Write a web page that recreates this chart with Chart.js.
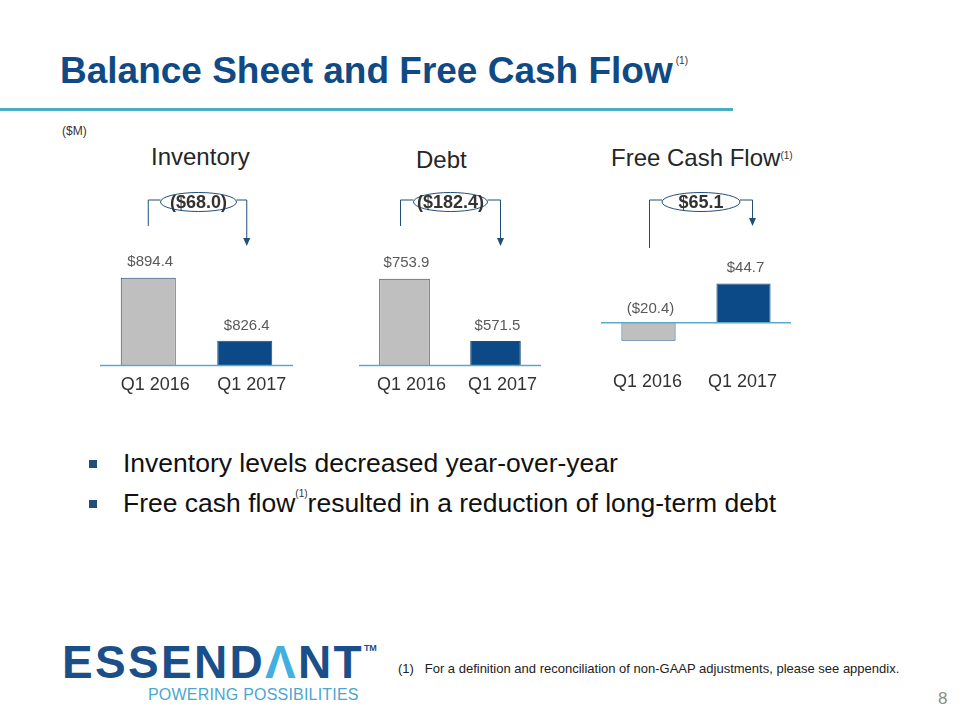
<!DOCTYPE html>
<html>
<head>
<meta charset="utf-8">
<script src="https://cdn.jsdelivr.net/npm/chart.js@4.4.1/dist/chart.umd.min.js"></script>
<style>
  body { margin: 0; width: 960px; height: 720px; background: #fff; font-family: "Liberation Sans", Arial, sans-serif; position: relative; overflow: hidden; }
  .abs { position: absolute; white-space: nowrap; }
  #title { left: 60px; top: 50px; font-size: 37px; line-height: 42px; font-weight: bold; color: #0F4A85; }
  #title sup { font-size: 10px; font-weight: normal; color: #333; vertical-align: top; position: relative; top: -10px; left: 3px; }
  .ttl sup { font-size: 10px; font-weight: normal; color: #333; vertical-align: top; position: relative; top: -2px; }
  .bul sup { font-size: 10px; font-weight: normal; color: #333; vertical-align: top; position: relative; top: -9px; }
  #rule { left: 0; top: 108px; width: 733px; height: 3px; background: #4BACC6; }
  #unit { left: 62px; top: 124px; font-size: 12px; color: #333; }
  .ttl { font-size: 24px; line-height: 28px; color: #262626; }
  .bul { font-size: 26.5px; line-height: 30px; color: #111; }
  .sq { width: 8px; height: 8px; background: #1F4E79; }
  #foot { left: 398px; top: 661px; font-size: 13px; color: #222; }
  #pg { left: 938px; top: 689px; font-size: 17px; color: #8a8a8a; }
  #logo { left: 62px; top: 640px; font-size: 46px; line-height: 44px; font-weight: bold; color: #1B4F8A; letter-spacing: 2.3px; }
  #logo .a { color: #41B0E0; }
  #logo sup { font-size: 9px; line-height: 9px; vertical-align: top; position: relative; top: 4px; letter-spacing: 0; }
  #tag { left: 148px; top: 686px; font-size: 16px; line-height: 17px; color: #4BA6D1; letter-spacing: 0.2px; }
  canvas { position: absolute; }
</style>
</head>
<body>
<div class="abs" id="title">Balance Sheet and Free Cash Flow<sup>(1)</sup></div>
<div class="abs" id="rule"></div>
<div class="abs" id="unit">($M)</div>

<div class="abs ttl" style="left:151px; top:143px;">Inventory</div>
<div class="abs ttl" style="left:416px; top:146px;">Debt</div>
<div class="abs ttl" style="left:611px; top:144px;">Free Cash Flow<sup>(1)</sup></div>

<canvas id="cInv" width="193" height="220" style="left:100px; top:189px; width:193px; height:220px;"></canvas>
<canvas id="cDebt" width="182" height="220" style="left:359px; top:189px; width:182px; height:220px;"></canvas>
<canvas id="cFcf" width="190" height="220" style="left:601px; top:189px; width:190px; height:220px;"></canvas>

<div class="abs sq" style="left:89px; top:460px;"></div>
<div class="abs bul" style="left:123px; top:448px;">Inventory levels decreased year-over-year</div>
<div class="abs sq" style="left:89px; top:500px;"></div>
<div class="abs bul" style="left:123px; top:488px;">Free cash flow<sup>(1)</sup>resulted in a reduction of long-term debt</div>

<div class="abs" id="logo">ESSEND<span class="a">&Lambda;</span>NT<sup>TM</sup></div>
<div class="abs" id="tag">POWERING POSSIBILITIES</div>
<div class="abs" id="foot">(1)&nbsp;&nbsp;&nbsp;For a definition and reconciliation of non-GAAP adjustments, please see appendix.</div>
<div class="abs" id="pg">8</div>

<script>
var periods = ['Q1 2016', 'Q1 2017'];
var inventory = [894.4, 826.4];
var debt = [753.9, 571.5];
var freeCashFlow = [-20.4, 44.7];

var NAVY = '#0B4A87';
var GRAY = '#BFBFBF';
var LINE = '#5AAAC9';

function fmt(v) {
    var s = '$' + Math.abs(v).toFixed(1);
    return v < 0 ? '(' + s + ')' : s;
}

// baseline, value labels and the change bracket
var decor = {
    id: 'decor',
    afterDatasetsDraw: function (chart, args, o) {
        var ctx = chart.ctx, area = chart.chartArea;
        var y0 = chart.scales.y.getPixelForValue(o.base);
        var bars = chart.getDatasetMeta(0).data;
        var vals = chart.data.datasets[0].data;

        ctx.save();
        ctx.strokeStyle = LINE;
        ctx.lineWidth = 1.5;
        ctx.beginPath();
        ctx.moveTo(area.left, y0);
        ctx.lineTo(area.right, y0);
        ctx.stroke();

        ctx.fillStyle = '#595959';
        ctx.font = '15px "Liberation Sans", Arial, sans-serif';
        ctx.textAlign = 'center';
        ctx.textBaseline = 'bottom';
        bars.forEach(function (b, i) {
            var top = vals[i] < 0 ? y0 - 6 : b.y - 8;
            ctx.fillText(fmt(vals[i]), b.x + 2, top);
        });

        // bracket
        var x1 = bars[0].x + o.dx1, x2 = bars[1].x + o.dx2;
        var cx = (x1 + x2) / 2 + o.dxe, cy = o.ey;
        var rx = o.rx, ry = 9.5;
        ctx.strokeStyle = '#1F4E79';
        ctx.lineWidth = 1;
        ctx.beginPath();
        ctx.moveTo(x1, o.leftBottom);
        ctx.lineTo(x1, cy - 2);
        ctx.lineTo(cx - rx, cy - 2);
        ctx.moveTo(cx + rx, cy - 2);
        ctx.lineTo(x2, cy - 2);
        ctx.lineTo(x2, o.tip - 7);
        ctx.stroke();
        ctx.fillStyle = '#1F4E79';
        ctx.beginPath();
        ctx.moveTo(x2 - 3.5, o.tip - 8);
        ctx.lineTo(x2 + 3.5, o.tip - 8);
        ctx.lineTo(x2, o.tip);
        ctx.closePath();
        ctx.fill();

        ctx.fillStyle = '#fff';
        ctx.beginPath();
        ctx.ellipse(cx, cy, rx, ry, 0, 0, Math.PI * 2);
        ctx.fill();
        ctx.stroke();
        ctx.fillStyle = '#333';
        ctx.font = 'bold 18px "Liberation Sans", Arial, sans-serif';
        ctx.textBaseline = 'middle';
        ctx.fillText(fmt(vals[1] - vals[0]), cx, cy + 1);
        ctx.restore();
    }
};

function makeChart(id, values, min, max, padTop, padBottom, barPct, labelOffset, deco) {
    return new Chart(document.getElementById(id), {
        type: 'bar',
        data: {
            labels: periods,
            datasets: [{
                data: values,
                backgroundColor: [GRAY, NAVY],
                borderColor: '#1F4E79',
                borderWidth: 1,
                barPercentage: barPct,
                categoryPercentage: 1
            }]
        },
        options: {
            responsive: false,
            animation: false,
            events: [],
            layout: { padding: { top: padTop, bottom: padBottom, left: 0, right: 0 } },
            plugins: {
                legend: { display: false },
                tooltip: { enabled: false },
                decor: deco
            },
            scales: {
                x: {
                    grid: { display: false, drawTicks: false },
                    border: { display: false },
                    ticks: {
                        color: '#333',
                        padding: 9,
                        labelOffset: labelOffset,
                        font: { family: '"Liberation Sans", Arial, sans-serif', size: 18 }
                    }
                },
                y: { display: false, min: min, max: max }
            }
        },
        plugins: [decor]
    });
}

makeChart('cInv', inventory, 800, 950, 37, 4, 0.57, 7,
    { base: 800, dx1: 0, dx2: 2, dxe: 1, ey: 13, rx: 38, leftBottom: 37, tip: 57 });
makeChart('cDebt', debt, 500, 900, 40, 4, 0.556, 7,
    { base: 500, dx1: -4, dx2: 5, dxe: 0, ey: 13, rx: 37, leftBottom: 37, tip: 57 });
makeChart('cFcf', freeCashFlow, -45, 110, 37, 7, 0.57, -1,
    { base: 0, dx1: 1, dx2: 9, dxe: 0, ey: 13, rx: 39, leftBottom: 59, tip: 37 });
</script>
</body>
</html>
